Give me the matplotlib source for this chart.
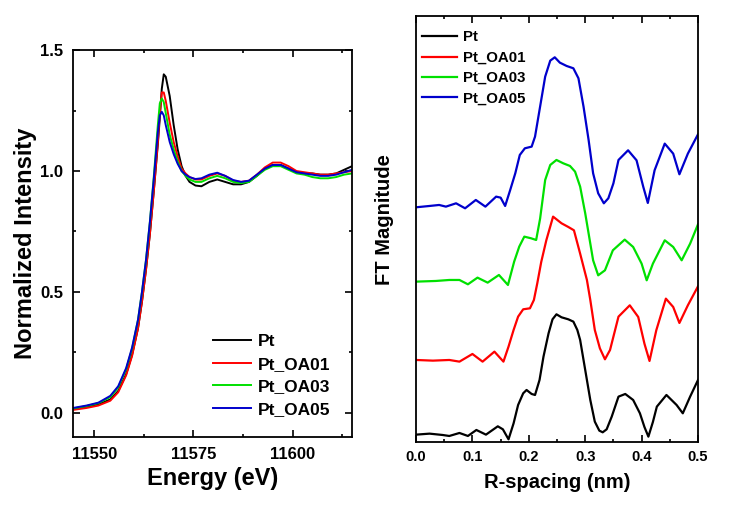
import matplotlib
matplotlib.use("Agg")
import matplotlib.pyplot as plt
from matplotlib.ticker import MultipleLocator

plt.rcParams['font.family'] = ['Liberation Sans', 'DejaVu Sans']
plt.rcParams['font.weight'] = 'bold'

labels = ['Pt', 'Pt_OA01', 'Pt_OA03', 'Pt_OA05']
colors = ['#000000', '#ff0000', '#00e000', '#0000cc']

# XANES, Pt L3 edge
energy = [11544.6, 11548, 11551, 11554, 11556, 11558, 11559.5, 11561, 11562, 11563,
          11564, 11565, 11566, 11566.5, 11567, 11567.5, 11568, 11569, 11570, 11571,
          11572, 11573, 11574, 11575.5, 11577, 11579, 11581, 11583, 11585, 11587,
          11589, 11591, 11593, 11595, 11597, 11599, 11601, 11603, 11605, 11607,
          11609, 11611, 11613, 11615]
xanes_pt = [0.015, 0.025, 0.035, 0.055, 0.09, 0.16, 0.24, 0.35, 0.46, 0.59,
            0.74, 0.92, 1.11, 1.22, 1.34, 1.40, 1.39, 1.31, 1.19, 1.09,
            1.02, 0.98, 0.955, 0.94, 0.937, 0.955, 0.965, 0.955, 0.945, 0.945,
            0.955, 0.98, 1.01, 1.025, 1.025, 1.01, 0.995, 0.99, 0.99, 0.985,
            0.985, 0.99, 1.005, 1.02]
xanes_oa01 = [0.012, 0.02, 0.03, 0.05, 0.085, 0.155, 0.235, 0.35, 0.46, 0.59,
              0.74, 0.92, 1.12, 1.24, 1.325, 1.325, 1.29, 1.20, 1.12, 1.06,
              1.01, 0.99, 0.975, 0.965, 0.965, 0.98, 0.99, 0.98, 0.96, 0.955,
              0.96, 0.985, 1.015, 1.035, 1.035, 1.02, 1.0, 0.995, 0.99, 0.985,
              0.985, 0.99, 0.995, 1.0]
xanes_oa03 = [0.018, 0.028, 0.04, 0.065, 0.105, 0.18, 0.265, 0.385, 0.50, 0.63,
              0.79, 0.98, 1.19, 1.28, 1.30, 1.285, 1.24, 1.15, 1.09, 1.04,
              1.0, 0.98, 0.965, 0.955, 0.955, 0.97, 0.98, 0.97, 0.955, 0.95,
              0.955, 0.98, 1.005, 1.02, 1.02, 1.005, 0.99, 0.985, 0.975, 0.97,
              0.97, 0.975, 0.985, 0.99]
xanes_oa05 = [0.02, 0.03, 0.042, 0.07, 0.11, 0.185, 0.27, 0.385, 0.50, 0.63,
              0.79, 0.97, 1.16, 1.23, 1.245, 1.23, 1.19, 1.12, 1.07, 1.03,
              1.0, 0.985, 0.975, 0.967, 0.97, 0.985, 0.993, 0.98, 0.963, 0.955,
              0.96, 0.985, 1.01, 1.025, 1.025, 1.01, 0.995, 0.99, 0.985, 0.98,
              0.98, 0.985, 0.995, 1.005]

# FT magnitude, curves stacked (arbitrary units)
r_pt = [0.000, 0.024, 0.047, 0.059, 0.077, 0.092, 0.107, 0.124, 0.145, 0.154,
        0.164, 0.173, 0.181, 0.190, 0.196, 0.205, 0.211, 0.219, 0.226, 0.235,
        0.242, 0.249, 0.258, 0.270, 0.279, 0.286, 0.291, 0.300, 0.309, 0.317,
        0.325, 0.331, 0.338, 0.347, 0.359, 0.371, 0.385, 0.397, 0.405, 0.412,
        0.420, 0.427, 0.444, 0.462, 0.473, 0.486, 0.500]
ft_pt = [0.22, 0.25, 0.21, 0.18, 0.27, 0.18, 0.36, 0.22, 0.47, 0.38,
         0.08, 0.56, 1.11, 1.46, 1.56, 1.44, 1.41, 1.86, 2.56, 3.26,
         3.68, 3.83, 3.74, 3.68, 3.61, 3.36, 3.06, 2.16, 1.26, 0.61,
         0.34, 0.29, 0.38, 0.76, 1.36, 1.44, 1.26, 0.86, 0.45, 0.16,
         0.60, 1.06, 1.41, 1.11, 0.86, 1.36, 1.86]
r_oa01 = [0.000, 0.030, 0.059, 0.077, 0.100, 0.118, 0.139, 0.155, 0.164, 0.173,
          0.181, 0.190, 0.202, 0.209, 0.215, 0.222, 0.231, 0.243, 0.258, 0.270,
          0.280, 0.291, 0.303, 0.309, 0.317, 0.326, 0.335, 0.344, 0.359, 0.379,
          0.394, 0.405, 0.414, 0.426, 0.443, 0.456, 0.467, 0.482, 0.500]
ft_oa01 = [2.46, 2.44, 2.46, 2.41, 2.64, 2.41, 2.71, 2.41, 2.86, 3.36,
           3.76, 3.98, 4.01, 4.26, 4.76, 5.40, 6.05, 6.76, 6.56, 6.45,
           6.35, 5.65, 4.86, 4.26, 3.36, 2.81, 2.48, 2.76, 3.76, 4.10,
           3.75, 2.95, 2.43, 3.35, 4.30, 4.05, 3.57, 4.10, 4.67]
r_oa03 = [0.000, 0.035, 0.059, 0.077, 0.092, 0.109, 0.127, 0.147, 0.163, 0.174,
          0.183, 0.192, 0.204, 0.213, 0.220, 0.229, 0.238, 0.249, 0.261, 0.273,
          0.282, 0.291, 0.300, 0.314, 0.323, 0.335, 0.349, 0.370, 0.385, 0.400,
          0.409, 0.420, 0.441, 0.456, 0.471, 0.486, 0.500]
ft_oa03 = [4.81, 4.83, 4.86, 4.86, 4.73, 4.93, 4.78, 5.01, 4.71, 5.41,
           5.86, 6.16, 6.11, 6.06, 6.70, 7.86, 8.31, 8.46, 8.36, 8.28,
           8.11, 7.66, 6.86, 5.45, 5.00, 5.15, 5.75, 6.07, 5.85, 5.35,
           4.85, 5.35, 6.05, 5.85, 5.45, 5.95, 6.53]
r_oa05 = [0.000, 0.024, 0.041, 0.053, 0.071, 0.087, 0.106, 0.123, 0.142, 0.150,
          0.158, 0.167, 0.176, 0.184, 0.193, 0.205, 0.211, 0.220, 0.229, 0.238,
          0.246, 0.255, 0.267, 0.279, 0.288, 0.297, 0.306, 0.314, 0.323, 0.333,
          0.341, 0.350, 0.359, 0.376, 0.391, 0.403, 0.411, 0.423, 0.441, 0.456,
          0.467, 0.482, 0.500]
ft_oa05 = [7.04, 7.08, 7.11, 7.06, 7.16, 7.01, 7.26, 7.06, 7.36, 7.33,
           7.08, 7.56, 8.06, 8.61, 8.81, 8.86, 9.16, 10.06, 10.96, 11.44,
           11.54, 11.38, 11.28, 11.21, 10.91, 10.06, 9.06, 8.06, 7.46, 7.16,
           7.31, 7.76, 8.46, 8.75, 8.45, 7.65, 7.17, 8.15, 8.95, 8.65,
           8.03, 8.65, 9.23]

fig = plt.figure(figsize=(7.56, 5.05), dpi=100)
ax1 = fig.add_axes([0.0966, 0.1347, 0.369, 0.766])
ax2 = fig.add_axes([0.5503, 0.1248, 0.373, 0.8436])

for ys, c, lab in zip([xanes_pt, xanes_oa01, xanes_oa03, xanes_oa05], colors, labels):
    ax1.plot(energy, ys, color=c, lw=1.4, label=lab)
ax1.set_xlim(11544.6, 11615)
ax1.set_ylim(-0.1, 1.5)
ax1.xaxis.set_major_locator(MultipleLocator(25))
ax1.xaxis.set_minor_locator(MultipleLocator(12.5))
ax1.yaxis.set_major_locator(MultipleLocator(0.5))
ax1.yaxis.set_minor_locator(MultipleLocator(0.25))
ax1.yaxis.set_major_formatter(plt.FormatStrFormatter('%.1f'))
ax1.tick_params(which='both', direction='in', top=True, right=True,
                labelsize=12, width=1.2)
ax1.tick_params(which='major', length=5, pad=7)
ax1.tick_params(which='minor', length=2.5)
ax1.set_xlabel('Energy (eV)', fontsize=17, fontweight='bold', labelpad=4)
ax1.set_ylabel('Normalized Intensity', fontsize=17, fontweight='bold', labelpad=2)
ax1.legend(loc='lower left', bbox_to_anchor=(0.459, 0.021), frameon=False,
           fontsize=12.5, handlelength=2.2, handletextpad=0.35,
           labelspacing=0.42, borderaxespad=0.3)

for rs, ys, c, lab in zip([r_pt, r_oa01, r_oa03, r_oa05],
                          [ft_pt, ft_oa01, ft_oa03, ft_oa05], colors, labels):
    ax2.plot(rs, ys, color=c, lw=1.6, label=lab)
ax2.set_xlim(0, 0.5)
ax2.set_ylim(0, 12.78)
ax2.xaxis.set_major_locator(MultipleLocator(0.1))
ax2.xaxis.set_minor_locator(MultipleLocator(0.05))
ax2.xaxis.set_major_formatter(plt.FormatStrFormatter('%.1f'))
ax2.set_yticks([])
ax2.tick_params(axis='x', which='both', direction='in', top=True,
                labelsize=10.5, width=1.2)
ax2.tick_params(axis='x', which='major', length=5, pad=6)
ax2.tick_params(axis='x', which='minor', length=2.5)
ax2.set_xlabel('R-spacing (nm)', fontsize=14.5, fontweight='bold', labelpad=6)
ax2.set_ylabel('FT Magnitude', fontsize=14.5, fontweight='bold')
ax2.yaxis.set_label_coords(-0.078, 0.521)
ax2.legend(loc='upper left', bbox_to_anchor=(0.0, 0.98), frameon=False,
           fontsize=10.8, handlelength=2.33, handletextpad=0.4,
           labelspacing=0.42, borderaxespad=0.0)

for ax in (ax1, ax2):
    for s in ax.spines.values():
        s.set_linewidth(1.3)

fig.savefig('out.png', dpi=100)
